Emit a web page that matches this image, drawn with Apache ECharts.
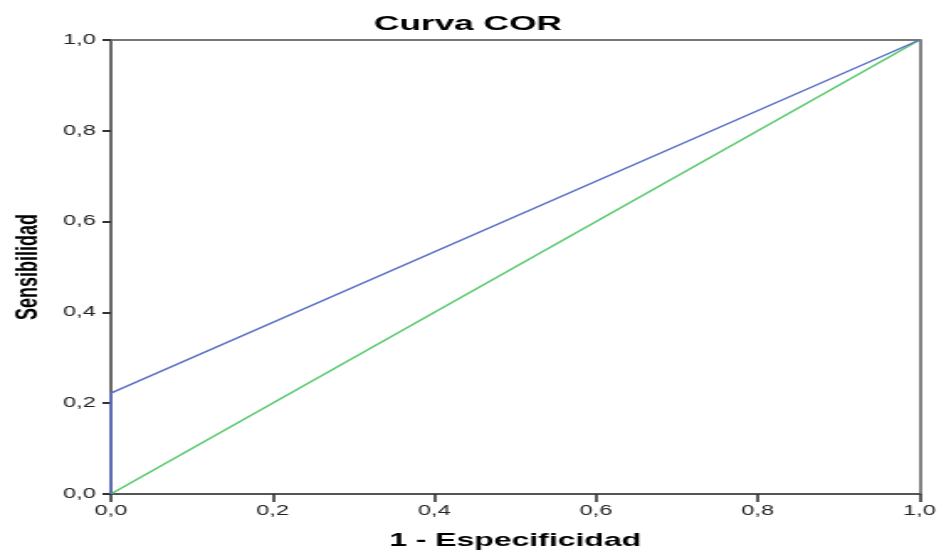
<!DOCTYPE html>
<html><head><meta charset="utf-8">
<script src="https://cdn.jsdelivr.net/npm/echarts@6/dist/echarts.min.js"></script>
<style>
html,body{margin:0;padding:0;background:#fff;overflow:hidden;width:941px;height:555px}
#wrap{position:absolute;left:0;top:0;width:941px;height:555px;overflow:hidden}
/* The reference image is horizontally stretched; reproduce that stretch */
#c{position:absolute;left:0;top:0;width:560px;height:555px;transform:scaleX(1.68);transform-origin:0 0}
</style>
</head><body><div id="wrap"><div id="c"></div></div>
<script>
const rocX = [0, 0, 1];
const rocY = [0, 0.222, 1];
const refX = [0, 1];
const refY = [0, 1];

const fmt = v => v.toFixed(1).replace('.', ',');
const chart = echarts.init(document.getElementById('c'), null, { width: 560, height: 555 });
const font = 'Liberation Sans, Arial, sans-serif';
chart.setOption({
  animation: false,
  title: { text: 'Curva COR', left: 273.5, top: 9, textAlign: 'center',
    textStyle: { fontFamily: font, fontSize: 21, fontWeight: 'bold', color: '#000' } },
  grid: { left: 64.3, width: 485, top: 40, height: 460, containLabel: false },
  xAxis: [{
    type: 'value', min: 0, max: 1, interval: 0.2,
    name: '1 - Especificidad', nameLocation: 'middle', nameGap: 37,
    nameTextStyle: { fontFamily: font, fontSize: 19, fontWeight: 'bold', color: '#000' },
    axisLine: { show: true, onZero: false, lineStyle: { color: '#555', width: 2 } },
    axisTick: { show: true, length: 8, lineStyle: { color: '#333', width: 1.6 } },
    axisLabel: { formatter: fmt, fontFamily: font, fontSize: 14, color: '#222', margin: 10 },
    splitLine: { show: false }
  }, {
    type: 'value', min: 0, max: 1, position: 'top',
    axisLine: { show: true, onZero: false, lineStyle: { color: '#777', width: 2 } },
    axisTick: { show: false }, axisLabel: { show: false }, splitLine: { show: false }
  }],
  yAxis: [{
    type: 'value', min: 0, max: 1, interval: 0.2,
    name: 'Sensibilidad', nameLocation: 'middle', nameGap: 40, nameRotate: 90,
    nameTextStyle: { fontFamily: font, fontSize: 18, fontWeight: 'bold', color: '#000' },
    axisLine: { show: true, onZero: false, lineStyle: { color: '#5a5a5a', width: 1.8 } },
    axisTick: { show: true, length: 5, lineStyle: { color: '#333', width: 2 } },
    axisLabel: { formatter: fmt, fontFamily: font, fontSize: 14, color: '#222', margin: 9 },
    splitLine: { show: false }
  }, {
    type: 'value', min: 0, max: 1, position: 'right',
    axisLine: { show: true, onZero: false, lineStyle: { color: '#777', width: 1.8 } },
    axisTick: { show: false }, axisLabel: { show: false }, splitLine: { show: false }
  }],
  series: [{
    type: 'line', data: refX.map((x, i) => [x, refY[i]]), symbol: 'none',
    lineStyle: { color: '#55c86a', width: 1.5 }, z: 3
  }, {
    type: 'line', data: rocX.map((x, i) => [x, rocY[i]]), symbol: 'none',
    lineStyle: { color: '#5b70c6', width: 1.5 }, z: 4
  }]
});
</script></body></html>
